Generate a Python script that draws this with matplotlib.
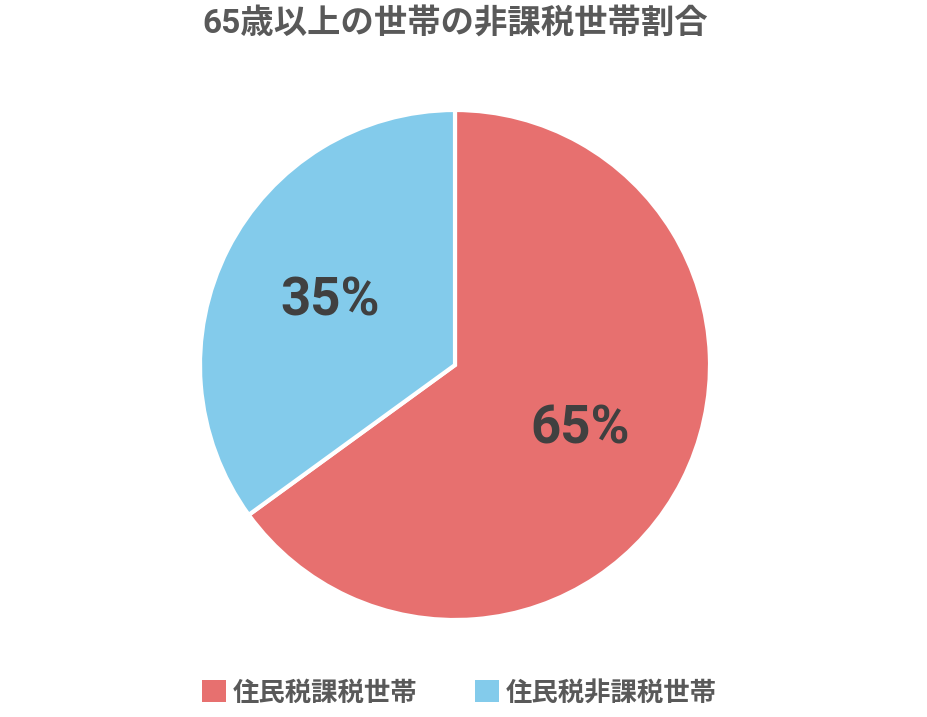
import matplotlib
matplotlib.use("Agg")
import matplotlib.pyplot as plt

plt.rcParams["font.family"] = ["Noto Sans CJK JP", "DejaVu Sans"]

title = "65歳以上の世帯の非課税世帯割合"
labels = ["住民税課税世帯", "住民税非課税世帯"]
shares = [65, 35]
colors = ["#E7706F", "#83CBEB"]

fig = plt.figure(figsize=(9.28, 7.17), dpi=100)
ax = fig.add_axes([200 / 928, 1 - 620 / 717, 510 / 928, 510 / 717])

wedges, texts, autotexts = ax.pie(
    shares,
    colors=colors,
    startangle=90,
    counterclock=False,
    autopct=lambda p: f"{p:.0f}%",
    pctdistance=0.55,
    wedgeprops={"edgecolor": "white", "linewidth": 3},
    textprops={"fontsize": 38, "fontweight": "bold", "color": "#404040",
               "family": ["Roboto", "Noto Sans CJK JP"]},
)
ax.set_xlim(-1.0, 1.0)
ax.set_ylim(-1.0, 1.0)
ax.set_aspect("equal")

fig.text(0.49, 1 - 25 / 717, title, ha="center", va="center",
         fontsize=24, fontweight="bold", color="#595959",
         family=["Roboto", "Noto Sans CJK JP"])

leg = fig.legend(
    wedges, labels, loc="center", ncol=2,
    bbox_to_anchor=(0.495, 1 - 693 / 717),
    frameon=False, handlelength=0.9, handleheight=0.9,
    handletextpad=0.25, columnspacing=2.2,
    prop={"size": 19, "weight": "bold"},
)
for t in leg.get_texts():
    t.set_color("#595959")
for h in leg.legend_handles:
    h.set_edgecolor("none")

fig.savefig("out.png", dpi=100)
